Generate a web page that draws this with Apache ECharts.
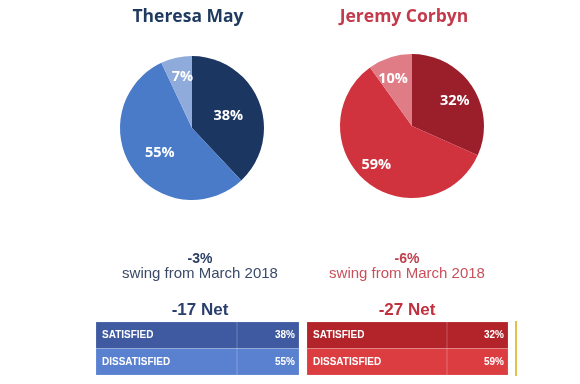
<!DOCTYPE html>
<html><head><meta charset="utf-8">
<script src="https://cdn.jsdelivr.net/npm/echarts@6/dist/echarts.min.js"></script>
<style>html,body{margin:0;padding:0;background:#fff}#c{width:580px;height:384px}</style>
</head><body><div id="c"></div>
<script>
const candidates = ['Theresa May', 'Jeremy Corbyn'];
const categories = ['Satisfied', 'Dissatisfied', "Don't know"];
const mayValues = [38, 55, 7];
const corbynValues = [32, 59, 10];
const swingValues = [-3, -6];
const swingLabel = 'swing from March 2018';
const netValues = [-17, -27];
const tableRows = ['SATISFIED', 'DISSATISFIED'];

const palettes = [
  ['#1c3662', '#4a7bc8', '#8eabdc'],
  ['#9a1f2b', '#d0323e', '#e07c86']
];
const titleColors = ['#1e3a5f', '#c23a4b'];
const swingNumColors = ['#2b3f66', '#c0404d'];
const swingTextColors = ['#3b4a68', '#c9505b'];
const netColors = ['#2a3f6e', '#c0303f'];
const rowColors = [['#3f5aa0', '#5a80d0'], ['#b2232a', '#dc3d40']];
const centers = [[192, 128], [412, 126]];
const colX = [200, 407];
const tableX = [[96, 237, 299], [307, 447, 508]];
const labelOffsets = [
  [[0, 2], [0, 3], [-1, -13]],
  [[10, -4], [-11, 9], [-7, -10]]
];
const valuesByCandidate = [mayValues, corbynValues];

const chart = echarts.init(document.getElementById('c'));

const series = candidates.map((name, i) => ({
  type: 'pie',
  name: name,
  center: centers[i],
  radius: 72,
  startAngle: 90,
  clockwise: true,
  silent: true,
  label: {
    show: true,
    position: 'inside',
    formatter: '{c}%',
    color: '#fff',
    fontFamily: 'Open Sans',
    fontWeight: 'bold',
    fontSize: 14.5
  },
  labelLine: { show: false },
  itemStyle: { borderWidth: 0 },
  data: categories.map((c, j) => ({
    name: c,
    value: valuesByCandidate[i][j],
    itemStyle: { color: palettes[i][j] },
    label: { offset: labelOffsets[i][j] }
  }))
}));

const graphics = [];
candidates.forEach((name, i) => {
  graphics.push({
    type: 'text', x: [188, 404][i], y: 17,
    style: { text: name, fill: titleColors[i], font: 'bold 17.5px "Open Sans"', textAlign: 'center', textVerticalAlign: 'middle' }
  });
  graphics.push({
    type: 'text', x: colX[i], y: 259,
    style: { text: swingValues[i] + '%', fill: swingNumColors[i], font: 'bold 14px "Liberation Sans"', textAlign: 'center', textVerticalAlign: 'middle' }
  });
  graphics.push({
    type: 'text', x: colX[i], y: 274,
    style: { text: swingLabel, fill: swingTextColors[i], font: '15px "Liberation Sans"', textAlign: 'center', textVerticalAlign: 'middle' }
  });
  graphics.push({
    type: 'text', x: colX[i], y: 310,
    style: { text: netValues[i] + ' Net', fill: netColors[i], font: 'bold 17px "Liberation Sans"', textAlign: 'center', textVerticalAlign: 'middle' }
  });
  const [x0, xd, x1] = tableX[i];
  const rowVals = [valuesByCandidate[i][0], valuesByCandidate[i][1]];
  tableRows.forEach((r, k) => {
    const y0 = 322 + k * 26.5;
    graphics.push({
      type: 'rect', shape: { x: x0, y: y0, width: x1 - x0, height: 26.5 },
      style: { fill: rowColors[i][k], stroke: 'rgba(255,255,255,0.25)', lineWidth: 0.6 }
    });
    graphics.push({
      type: 'line', shape: { x1: xd, y1: y0, x2: xd, y2: y0 + 26.5 },
      style: { stroke: 'rgba(255,255,255,0.25)', lineWidth: 1 }
    });
    graphics.push({
      type: 'text', x: x0 + 6, y: y0 + 13.5,
      style: { text: r, fill: '#fff', font: 'bold 10px "Liberation Sans"', textAlign: 'left', textVerticalAlign: 'middle' }
    });
    graphics.push({
      type: 'text', x: x1 - 4, y: y0 + 13.5,
      style: { text: rowVals[k] + '%', fill: '#fff', font: 'bold 10px "Liberation Sans"', textAlign: 'right', textVerticalAlign: 'middle' }
    });
  });
});
graphics.push({
  type: 'line', shape: { x1: 516, y1: 321, x2: 516, y2: 376 },
  style: { stroke: '#e2c24a', lineWidth: 2 }
});

chart.setOption({
  backgroundColor: '#fff',
  animation: false,
  series: series,
  graphic: graphics
});
</script>
</body></html>
